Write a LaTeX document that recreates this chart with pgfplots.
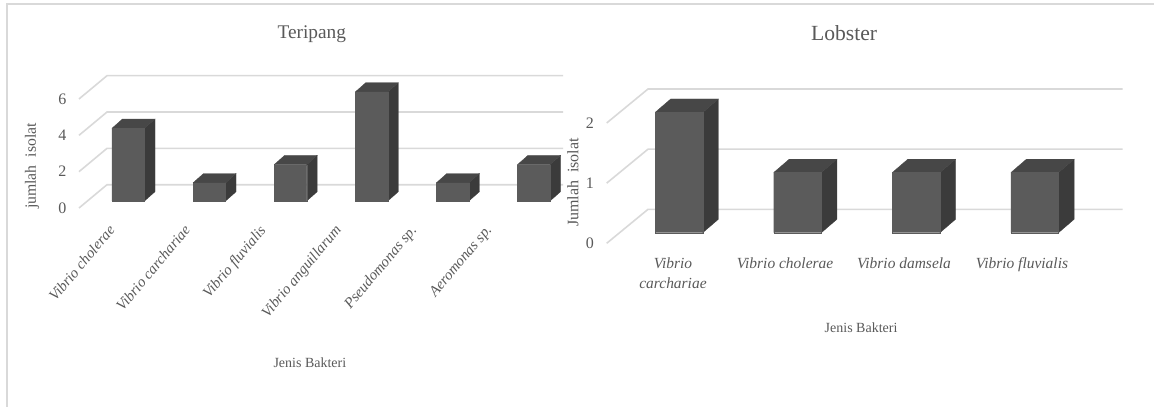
\documentclass[border=0pt]{standalone}
\usepackage{pgfplots}
\pgfplotsset{compat=1.18}
\usepackage{pgfplotstable}
\usepackage{fontspec}
\setmainfont{Liberation Serif}
\definecolor{txt}{HTML}{595959}
\definecolor{gridc}{HTML}{D9D9D9}
\definecolor{front}{HTML}{5B5B5B}
\definecolor{topc}{HTML}{474747}
\definecolor{sidec}{HTML}{3B3B3B}
\pgfplotstableread{
x v
0 4
1 1
2 2
3 6
4 1
5 2
}\teripang
\pgfplotstableread{
x v
0 2
1 1
2 1
3 1
}\lobster
% #1 x, #2 value, #3 half width, #4 depth x, #5 depth y, #6 base offset
\newcommand\cubefaces[6]{%
  \pgfmathsetmacro\xl{#1-#3}\pgfmathsetmacro\xr{#1+#3}%
  \pgfmathsetmacro\xlb{#1-#3+#4}\pgfmathsetmacro\xrb{#1+#3+#4}%
  \pgfmathsetmacro\yb{#6}\pgfmathsetmacro\ybb{#6+#5}%
  \pgfmathsetmacro\yt{#2+#6}\pgfmathsetmacro\ytb{#2+#6+#5}%
  \addplot[fill=sidec,draw=sidec,line width=0.2pt] coordinates {(\xr,\yb)(\xrb,\ybb)(\xrb,\ytb)(\xr,\yt)(\xr,\yb)};
  \addplot[fill=topc,draw=topc,line width=0.2pt] coordinates {(\xl,\yt)(\xr,\yt)(\xrb,\ytb)(\xlb,\ytb)(\xl,\yt)};
}
\pgfplotsset{
  every axis title shift=0pt,
  common/.style={
    scale only axis,
    axis line style={draw=none},
    axis lines=left,
    clip=false,
    major tick length=0pt,
    every axis plot/.append style={mark=none},
    tick label style={text=txt},
    /pgf/number format/assume math mode=true,
    yticklabel style={font=\fontsize{12}{14}\selectfont,anchor=east,xshift=-6pt},
    xticklabel style={font=\fontsize{11.6}{15}\selectfont\itshape},
    label style={text=txt,font=\fontsize{10.5}{13}\selectfont},
    title style={text=txt,font=\fontsize{14.5}{17}\selectfont,anchor=center},
  },
}
\begin{document}
\begin{tikzpicture}
\useasboundingbox (0,0) rectangle (865.5pt,305.25pt);
\draw[gridc,line width=0.9pt] (5.25pt,0pt) -- (5.25pt,302.25pt) -- (865.5pt,302.25pt);
\begin{axis}[common,
  at={(59.25pt,149.25pt)},anchor=south west,
  width=363pt,height=99.225pt,
  xmin=-0.6067,xmax=5.361,ymin=0,ymax=7.282,
  ytick={0,2,4,6},
  xtick={-0.138,0.792,1.721,2.651,3.581,4.511},
  xticklabels={Vibrio cholerae,Vibrio carchariae,Vibrio fluvialis,Vibrio anguillarum,Pseudomonas sp.,Aeromonas sp.},
  xticklabel style={font=\fontsize{11.2}{15}\selectfont\itshape,rotate=50,anchor=north east,yshift=1.3pt,xshift=-10.1pt},
  title={Teripang},title style={at={(axis description cs:0.481,1.315)}},
  xlabel={Jenis Bakteri},xlabel style={at={(axis description cs:0.477,-1.172)},anchor=center},
  ylabel={jumlah\ \ isolat},ylabel style={at={(axis description cs:-0.097,0.317)},anchor=center,font=\fontsize{11.8}{13}\selectfont},
]
\addplot[gridc,line width=1.2pt] coordinates {(-0.6067,0)(-0.2614,1.282)(5.361,1.282)};
\addplot[gridc,line width=1.2pt] coordinates {(-0.6067,2)(-0.2614,3.282)(5.361,3.282)};
\addplot[gridc,line width=1.2pt] coordinates {(-0.6067,4)(-0.2614,5.282)(5.361,5.282)};
\addplot[gridc,line width=1.2pt] coordinates {(-0.6067,6)(-0.2614,7.282)(5.361,7.282)};
\cubefaces{0}{4}{0.201}{0.1295}{0.512}{0.385}
\cubefaces{1}{1}{0.201}{0.1295}{0.512}{0.385}
\cubefaces{2}{2}{0.201}{0.1295}{0.512}{0.385}
\cubefaces{3}{6}{0.201}{0.1295}{0.512}{0.385}
\cubefaces{4}{1}{0.201}{0.1295}{0.512}{0.385}
\cubefaces{5}{2}{0.201}{0.1295}{0.512}{0.385}
\addplot[ybar,bar width=24.45pt,bar shift=0pt,fill=front,draw=front,line width=0.2pt,yshift=5.25pt] table[x=x,y=v] {\teripang};
\end{axis}
\begin{axis}[common,
  at={(455.025pt,122.775pt)},anchor=south west,
  width=387pt,height=115.725pt,
  xmin=-0.609,xmax=3.742,ymin=0,ymax=2.565,
  ytick={0,1,2},
  xtick={-0.05,0.895,1.898,2.893},
  xticklabels={{Vibrio\\carchariae},Vibrio cholerae,Vibrio damsela,Vibrio fluvialis},
  xticklabel style={align=center,anchor=north,yshift=-7.5pt},
  title={Lobster},title style={at={(axis description cs:0.46,1.363)},font=\fontsize{16.2}{18}\selectfont},
  xlabel={Jenis Bakteri},xlabel style={at={(axis description cs:0.493,-0.549)},anchor=center},
  ylabel={Jumlah\ \ isolat},ylabel style={at={(axis description cs:-0.0653,0.394)},anchor=center,font=\fontsize{12}{13}\selectfont},
]
\addplot[gridc,line width=1.2pt] coordinates {(-0.609,0)(-0.2605,0.565)(3.742,0.565)};
\addplot[gridc,line width=1.2pt] coordinates {(-0.609,1)(-0.2605,1.565)(3.742,1.565)};
\addplot[gridc,line width=1.2pt] coordinates {(-0.609,2)(-0.2605,2.565)(3.742,2.565)};
\cubefaces{0}{2}{0.201}{0.1315}{0.223}{0.176}
\cubefaces{1}{1}{0.201}{0.1315}{0.223}{0.176}
\cubefaces{2}{1}{0.201}{0.1315}{0.223}{0.176}
\cubefaces{3}{1}{0.201}{0.1315}{0.223}{0.176}
\addplot[ybar,bar width=35.8pt,bar shift=0pt,fill=front,draw=front,line width=0.2pt,yshift=7.95pt] table[x=x,y=v] {\lobster};
\end{axis}
\end{tikzpicture}
\end{document}
